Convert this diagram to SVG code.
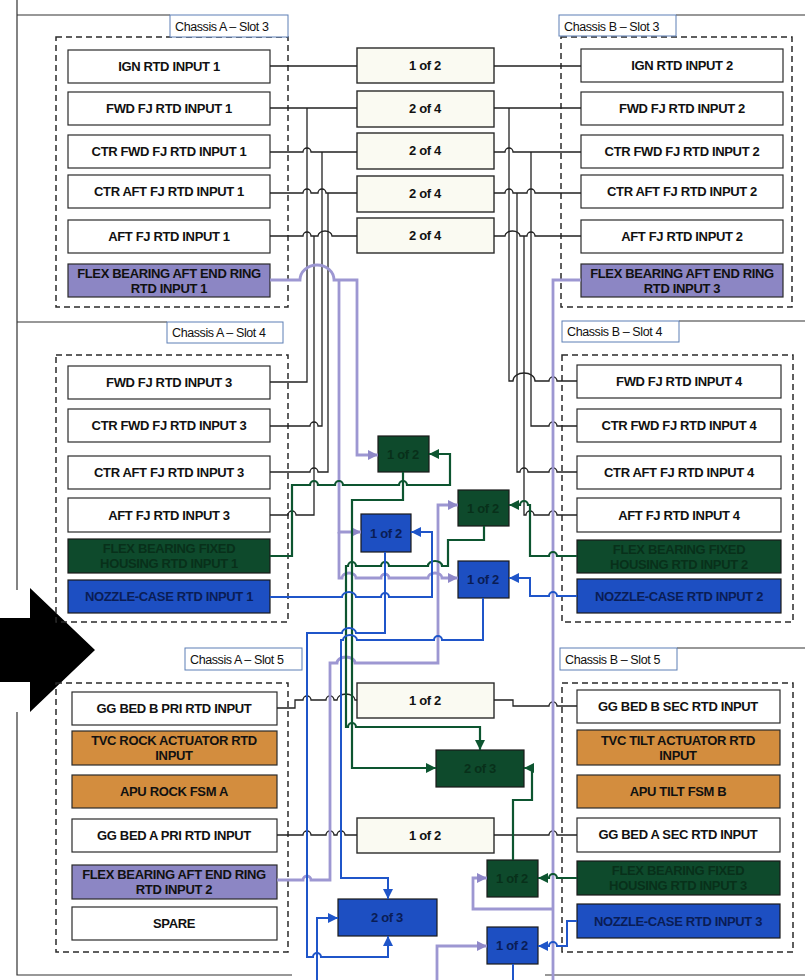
<svg xmlns="http://www.w3.org/2000/svg" width="805" height="980" viewBox="0 0 805 980">
<style>
text{font-family:"Liberation Sans",Arial,sans-serif}
.n{fill:#fff;stroke:#2a2a2a;stroke-width:1.2}
.pu{fill:#8c86c4;stroke:#2a2a2a;stroke-width:1.2}
.gr{fill:#0e4a2c;stroke:#1a1a1a;stroke-width:1.2}
.bl{fill:#1d4fc2;stroke:#1a1a1a;stroke-width:1.2}
.or{fill:#d38d3e;stroke:#2a2a2a;stroke-width:1.2}
.bg{fill:#fafaf2;stroke:#2a2a2a;stroke-width:1.4}
.t{font-size:13px;font-weight:bold;fill:#111;text-anchor:middle;letter-spacing:-0.35px}
.tg{font-size:13px;font-weight:bold;fill:#08301a;text-anchor:middle;letter-spacing:-0.35px}
.tb{font-size:13px;font-weight:bold;fill:#0a1d55;text-anchor:middle;letter-spacing:-0.35px}
.lb{fill:#fff;stroke:#5d7fb5;stroke-width:1}
.lt{font-size:12.5px;fill:#111;letter-spacing:-0.4px}
.d{fill:none;stroke:#2a2a2a;stroke-width:1.5;stroke-dasharray:6,4}
.fr{fill:none;stroke:#333;stroke-width:1.2}
.k{fill:none;stroke:#222;stroke-width:1.3}
.p{fill:none;stroke:#9d97d2;stroke-width:2.8}
.g{fill:none;stroke:#0d5530;stroke-width:2.2}
.b{fill:none;stroke:#1f55c9;stroke-width:2}
</style>
<defs>
<marker id="ap" viewBox="0 0 10 10" refX="10" refY="5" markerWidth="10" markerHeight="10" markerUnits="userSpaceOnUse" orient="auto"><path d="M0,0 L10,5 L0,10 z" fill="#8f88c8"/></marker>
<marker id="ag" viewBox="0 0 10 10" refX="10" refY="5" markerWidth="10" markerHeight="10" markerUnits="userSpaceOnUse" orient="auto"><path d="M0,0 L10,5 L0,10 z" fill="#0d5530"/></marker>
<marker id="ab" viewBox="0 0 10 10" refX="10" refY="5" markerWidth="10" markerHeight="10" markerUnits="userSpaceOnUse" orient="auto"><path d="M0,0 L10,5 L0,10 z" fill="#1f55c9"/></marker>
</defs>
<rect width="805" height="980" fill="#fff"/>

<g id="frame">
<path class="fr" d="M17,0 V590 M17,712 V975 H292 M17,15 H170 M17,322 H167 M676,15 H805 M679,321 H805 M677,648 H805 M545,975 H805"/>
<path d="M0,618 H30 V588 L95,650 L30,712 V682 H0 z" fill="#000"/>
<rect class="d" x="56" y="37" width="232" height="270"/>
<rect class="d" x="561" y="37" width="231" height="270"/>
<rect class="d" x="56" y="355" width="232" height="267"/>
<rect class="d" x="562" y="355" width="231" height="267"/>
<rect class="d" x="56" y="683" width="232" height="269"/>
<rect class="d" x="562" y="683" width="231" height="269"/>
</g>

<g id="lbl-a3"><rect class="lb" x="170" y="15" width="118" height="22"/><text class="lt" x="175" y="31">Chassis A – Slot 3</text></g>
<g id="lbl-b3"><rect class="lb" x="559" y="15" width="117" height="21"/><text class="lt" x="564" y="31">Chassis B – Slot 3</text></g>
<g id="lbl-a4"><rect class="lb" x="167" y="322" width="116" height="21"/><text class="lt" x="172" y="337">Chassis A – Slot 4</text></g>
<g id="lbl-b4"><rect class="lb" x="562" y="321" width="117" height="21"/><text class="lt" x="567" y="336">Chassis B – Slot 4</text></g>
<g id="lbl-a5"><rect class="lb" x="185" y="648" width="117" height="22"/><text class="lt" x="190" y="664">Chassis A – Slot 5</text></g>
<g id="lbl-b5"><rect class="lb" x="560" y="648" width="117" height="22"/><text class="lt" x="565" y="664">Chassis B – Slot 5</text></g>

<g id="a3-ign"><rect class="n" x="68" y="50" width="202" height="33"/><text class="t" x="169" y="71">IGN RTD INPUT 1</text></g>
<g id="a3-fwd"><rect class="n" x="68" y="92" width="202" height="33"/><text class="t" x="169" y="113">FWD FJ RTD INPUT 1</text></g>
<g id="a3-ctrfwd"><rect class="n" x="68" y="135" width="202" height="33"/><text class="t" x="169" y="156">CTR FWD FJ RTD INPUT 1</text></g>
<g id="a3-ctraft"><rect class="n" x="68" y="175" width="202" height="33"/><text class="t" x="169" y="196">CTR AFT FJ RTD INPUT 1</text></g>
<g id="a3-aft"><rect class="n" x="68" y="220" width="202" height="33"/><text class="t" x="169" y="241">AFT FJ RTD INPUT 1</text></g>
<g id="a3-flex"><rect class="pu" x="68" y="264" width="202" height="33"/><text class="t" x="169" y="278">FLEX BEARING AFT END RING</text><text class="t" x="169" y="293">RTD INPUT 1</text></g>

<g id="m-ign"><rect class="bg" x="357" y="48" width="137" height="35"/><text class="t" x="425" y="70">1 of 2</text></g>
<g id="m-fwd"><rect class="bg" x="357" y="91" width="137" height="36"/><text class="t" x="425" y="113">2 of 4</text></g>
<g id="m-ctrfwd"><rect class="bg" x="357" y="133" width="137" height="36"/><text class="t" x="425" y="155">2 of 4</text></g>
<g id="m-ctraft"><rect class="bg" x="357" y="176" width="137" height="36"/><text class="t" x="425" y="198">2 of 4</text></g>
<g id="m-aft"><rect class="bg" x="357" y="218" width="137" height="35"/><text class="t" x="425" y="240">2 of 4</text></g>

<g id="b3-ign"><rect class="n" x="581" y="49" width="202" height="33"/><text class="t" x="682" y="70">IGN RTD INPUT 2</text></g>
<g id="b3-fwd"><rect class="n" x="581" y="92" width="202" height="33"/><text class="t" x="682" y="113">FWD FJ RTD INPUT 2</text></g>
<g id="b3-ctrfwd"><rect class="n" x="581" y="135" width="202" height="33"/><text class="t" x="682" y="156">CTR FWD FJ RTD INPUT 2</text></g>
<g id="b3-ctraft"><rect class="n" x="581" y="175" width="202" height="33"/><text class="t" x="682" y="196">CTR AFT FJ RTD INPUT 2</text></g>
<g id="b3-aft"><rect class="n" x="581" y="220" width="202" height="33"/><text class="t" x="682" y="241">AFT FJ RTD INPUT 2</text></g>
<g id="b3-flex"><rect class="pu" x="581" y="264" width="202" height="33"/><text class="t" x="682" y="278">FLEX BEARING AFT END RING</text><text class="t" x="682" y="293">RTD INPUT 3</text></g>

<g id="a4-fwd"><rect class="n" x="68" y="366" width="202" height="33"/><text class="t" x="169" y="387">FWD FJ RTD INPUT 3</text></g>
<g id="a4-ctrfwd"><rect class="n" x="68" y="409" width="202" height="33"/><text class="t" x="169" y="430">CTR FWD FJ RTD INPUT 3</text></g>
<g id="a4-ctraft"><rect class="n" x="68" y="456" width="202" height="33"/><text class="t" x="169" y="477">CTR AFT FJ RTD INPUT 3</text></g>
<g id="a4-aft"><rect class="n" x="68" y="498" width="202" height="34"/><text class="t" x="169" y="520">AFT FJ RTD INPUT 3</text></g>
<g id="a4-flexfix"><rect class="gr" x="68" y="539" width="202" height="34"/><text class="tg" x="169" y="553">FLEX BEARING FIXED</text><text class="tg" x="169" y="568">HOUSING RTD INPUT 1</text></g>
<g id="a4-noz"><rect class="bl" x="68" y="580" width="202" height="33"/><text class="tb" x="169" y="601">NOZZLE-CASE RTD INPUT 1</text></g>

<g id="b4-fwd"><rect class="n" x="577" y="365" width="204" height="33"/><text class="t" x="679" y="386">FWD FJ RTD INPUT 4</text></g>
<g id="b4-ctrfwd"><rect class="n" x="577" y="409" width="204" height="33"/><text class="t" x="679" y="430">CTR FWD FJ RTD INPUT 4</text></g>
<g id="b4-ctraft"><rect class="n" x="577" y="456" width="204" height="33"/><text class="t" x="679" y="477">CTR AFT FJ RTD INPUT 4</text></g>
<g id="b4-aft"><rect class="n" x="577" y="498" width="204" height="34"/><text class="t" x="679" y="520">AFT FJ RTD INPUT 4</text></g>
<g id="b4-flexfix"><rect class="gr" x="577" y="540" width="204" height="33"/><text class="tg" x="679" y="554">FLEX BEARING FIXED</text><text class="tg" x="679" y="569">HOUSING RTD INPUT 2</text></g>
<g id="b4-noz"><rect class="bl" x="577" y="579" width="204" height="34"/><text class="tb" x="679" y="601">NOZZLE-CASE RTD INPUT 2</text></g>

<g id="a5-ggb"><rect class="n" x="72" y="692" width="205" height="33"/><text class="t" x="174" y="713">GG BED B PRI RTD INPUT</text></g>
<g id="a5-tvc"><rect class="or" x="72" y="731" width="205" height="34"/><text class="t" x="174" y="745">TVC ROCK ACTUATOR RTD</text><text class="t" x="174" y="760">INPUT</text></g>
<g id="a5-apu"><rect class="or" x="72" y="775" width="205" height="33"/><text class="t" x="174" y="796">APU ROCK FSM A</text></g>
<g id="a5-gga"><rect class="n" x="72" y="819" width="205" height="33"/><text class="t" x="174" y="840">GG BED A PRI RTD INPUT</text></g>
<g id="a5-flex"><rect class="pu" x="72" y="865" width="205" height="34"/><text class="t" x="174" y="879">FLEX BEARING AFT END RING</text><text class="t" x="174" y="894">RTD INPUT 2</text></g>
<g id="a5-spare"><rect class="n" x="72" y="907" width="205" height="33"/><text class="t" x="174" y="928">SPARE</text></g>

<g id="m-ggb"><rect class="bg" x="357" y="683" width="137" height="35"/><text class="t" x="425" y="705">1 of 2</text></g>
<g id="m-gga"><rect class="bg" x="357" y="818" width="137" height="35"/><text class="t" x="425" y="840">1 of 2</text></g>

<g id="b5-ggb"><rect class="n" x="577" y="690" width="203" height="33"/><text class="t" x="678" y="711">GG BED B SEC RTD INPUT</text></g>
<g id="b5-tvc"><rect class="or" x="577" y="730" width="203" height="35"/><text class="t" x="678" y="745">TVC TILT ACTUATOR RTD</text><text class="t" x="678" y="760">INPUT</text></g>
<g id="b5-apu"><rect class="or" x="577" y="775" width="203" height="33"/><text class="t" x="678" y="796">APU TILT FSM B</text></g>
<g id="b5-gga"><rect class="n" x="577" y="818" width="203" height="34"/><text class="t" x="678" y="839">GG BED A SEC RTD INPUT</text></g>
<g id="b5-flexfix"><rect class="gr" x="577" y="861" width="203" height="34"/><text class="tg" x="678" y="875">FLEX BEARING FIXED</text><text class="tg" x="678" y="890">HOUSING RTD INPUT 3</text></g>
<g id="b5-noz"><rect class="bl" x="577" y="904" width="203" height="34"/><text class="tb" x="678" y="926">NOZZLE-CASE RTD INPUT 3</text></g>

<g id="g-up"><rect class="gr" x="378" y="436" width="51" height="36"/><text class="tg" x="403" y="459">1 of 2</text></g>
<g id="g-mid"><rect class="gr" x="458" y="490" width="51" height="36"/><text class="tg" x="483" y="513">1 of 2</text></g>
<g id="b-left"><rect class="bl" x="361" y="514" width="50" height="38"/><text class="tb" x="386" y="538">1 of 2</text></g>
<g id="b-right"><rect class="bl" x="458" y="561" width="51" height="37"/><text class="tb" x="483" y="584">1 of 2</text></g>
<g id="g-23"><rect class="gr" x="436" y="750" width="88" height="37"/><text class="tg" x="480" y="773">2 of 3</text></g>
<g id="g-low"><rect class="gr" x="487" y="860" width="51" height="37"/><text class="tg" x="512" y="883">1 of 2</text></g>
<g id="b-23"><rect class="bl" x="338" y="899" width="99" height="37"/><text class="tb" x="387" y="922">2 of 3</text></g>
<g id="b-bot"><rect class="bl" x="487" y="927" width="51" height="37"/><text class="tb" x="512" y="950">1 of 2</text></g>

<g id="connectors">
<path class="k" d="M270,66 H357 M494,66 H581 M270,108 H357 M494,108 H581"/>
<path class="k" d="M270,152 H303 a4,4 0 0 1 8,0 H357"/>
<path class="k" d="M494,152 H505 a4,4 0 0 1 8,0 H581"/>
<path class="k" d="M270,193 H303 a4,4 0 0 1 8,0 H318 a4,4 0 0 1 8,0 H357"/>
<path class="k" d="M494,193 H505 a4,4 0 0 1 8,0 H527 a4,4 0 0 1 8,0 H581"/>
<path class="k" d="M270,236 H303 a4,4 0 0 1 8,0 H318 a7,5 0 0 1 14,0 H357"/>
<path class="k" d="M494,236 H505 a7.5,5 0 0 1 15,0 H527 a4,4 0 0 1 8,0 H581"/>
<path class="k" d="M270,382 H307 V108"/>
<path class="k" d="M270,426 H310 a4,4 0 0 1 8,0 H322 V152"/>
<path class="k" d="M270,472 H310 a4,4 0 0 1 8,0 H328 V193"/>
<path class="k" d="M270,515 H288 a4,4 0 0 1 8,0 H314 V236"/>
<path class="k" d="M577,381 H557 a4,4 0 0 0 -8,0 H535 a11,8 0 0 0 -22,0 H509 V108"/>
<path class="k" d="M577,426 H557 a4,4 0 0 0 -8,0 H531 V152"/>
<path class="k" d="M577,472 H557 a4,4 0 0 0 -8,0 H528 a4,4 0 0 0 -8,0 H517 V193"/>
<path class="k" d="M577,515 H557 a4,4 0 0 0 -8,0 H534 a4,4 0 0 0 -8,0 H524 V236"/>
<path class="k" d="M277,708 H295 V700 H303 a4,4 0 0 1 8,0 H326 a4,4 0 0 1 8,0 H337 a9,6 0 0 1 18,0 H357"/>
<path class="k" d="M494,700 H513 V706 H549 a4,4 0 0 1 8,0 H577"/>
<path class="k" d="M277,835 H303 a4,4 0 0 1 8,0 H326 a4,4 0 0 1 8,0 H337 a4,4 0 0 1 8,0 H357"/>
<path class="k" d="M494,835 H549 a4,4 0 0 1 8,0 H577"/>

<path class="p" d="M270,280 H300 a17,15 0 0 1 34,0 H357 V455 H378" marker-end="url(#ap)"/>
<path class="p" d="M339,280 V532 H361" marker-end="url(#ap)"/>
<path class="p" d="M339,532 V578 H342 a7,5 0 0 1 14,0 H381 a4,4 0 0 1 8,0 H428 a7,5 0 0 1 14,0 H458" marker-end="url(#ap)"/>
<path class="p" d="M277,880 H303 a4,4 0 0 1 8,0 H330 V663 H337 a9,6 0 0 1 18,0 H438 V505 H458" marker-end="url(#ap)"/>
<path class="p" d="M581,280 H553 V980"/>
<path class="p" d="M553,909 H473 V878 H487" marker-end="url(#ap)"/>
<path class="p" d="M437,980 V946 H487" marker-end="url(#ap)"/>

<path class="g" d="M270,556 H292 V485 H310 a4,4 0 0 1 8,0 H335 a4,4 0 0 1 8,0 H399 a4,4 0 0 1 8,0 H450 V454 H429" marker-end="url(#ag)"/>
<path class="g" d="M403,472 V500 H352 V768 H436" marker-end="url(#ag)"/>
<path class="g" d="M484,526 V540 H448 V566 H442 a7,5 0 0 0 -14,0 H389 a4,4 0 0 0 -8,0 H356 a4,4 0 0 0 -8,0 H346 V727 H348 a4,4 0 0 1 8,0 H480 V750" marker-end="url(#ag)"/>
<path class="g" d="M577,556 H557 a4,4 0 0 0 -8,0 H530 V505 H528 a4,4 0 0 0 -8,0 H509" marker-end="url(#ag)"/>
<path class="g" d="M577,878 H557 a4,4 0 0 0 -8,0 H538" marker-end="url(#ag)"/>
<path class="g" d="M513,860 V800 H532 V768 H524" marker-end="url(#ag)"/>

<path class="b" d="M270,597 H342 a7,5 0 0 1 14,0 H381 a4,4 0 0 1 8,0 H432 V532 H411" marker-end="url(#ab)"/>
<path class="b" d="M385,552 V633 H356 a7,5 0 0 0 -14,0 H307 V957 H313 a4,4 0 0 1 8,0 H388 V936" marker-end="url(#ab)"/>
<path class="b" d="M483,598 V640 H442 a4,4 0 0 0 -8,0 H357 a7,5 0 0 0 -14,0 H341 V878 H388 V899" marker-end="url(#ab)"/>
<path class="b" d="M317,980 V918 H338" marker-end="url(#ab)"/>
<path class="b" d="M513,964 V980"/>
<path class="b" d="M577,596 H557 a4,4 0 0 0 -8,0 H530 V578 H509" marker-end="url(#ab)"/>
<path class="b" d="M577,921 H567 V946 H557 a4,4 0 0 0 -8,0 H538" marker-end="url(#ab)"/>
</g>
</svg>
